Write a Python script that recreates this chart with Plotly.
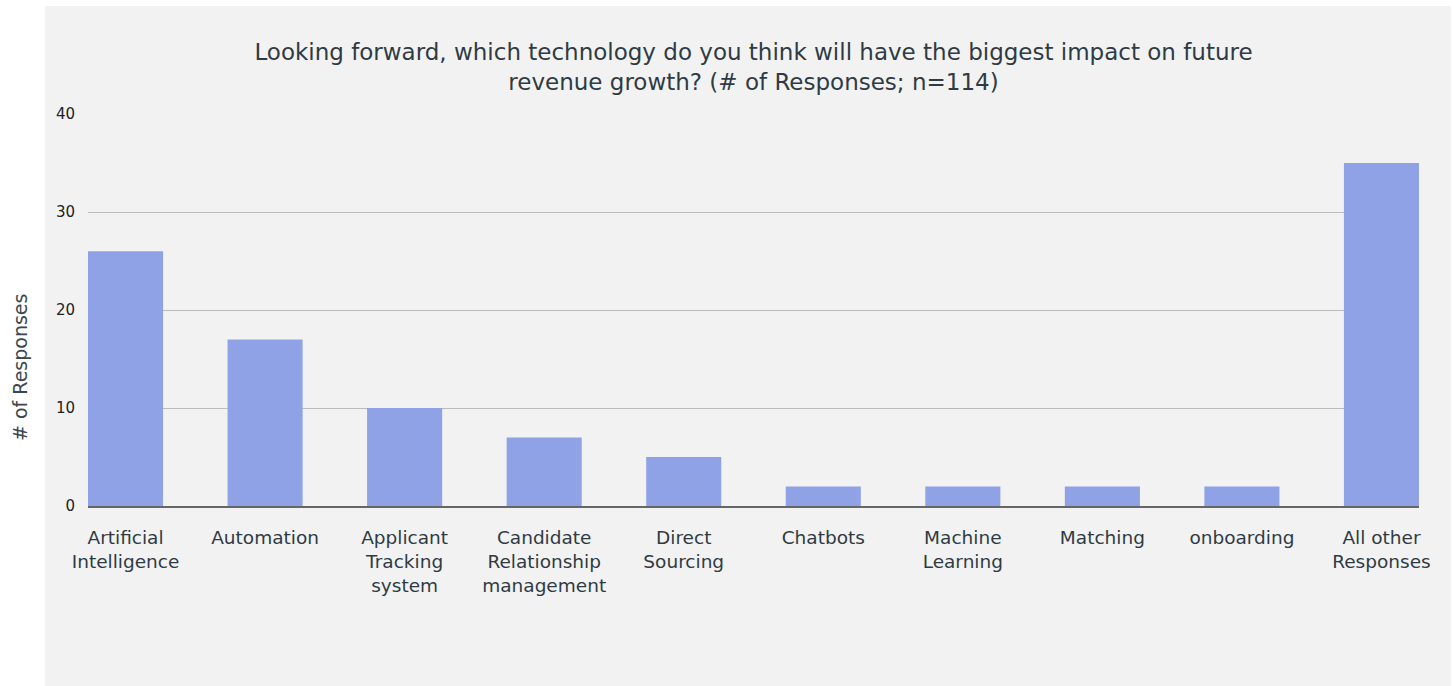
import plotly.graph_objects as go

# Survey responses per technology
categories = [
    "Artificial<br>Intelligence",
    "Automation",
    "Applicant<br>Tracking<br>system",
    "Candidate<br>Relationship<br>management",
    "Direct<br>Sourcing",
    "Chatbots",
    "Machine<br>Learning",
    "Matching",
    "onboarding",
    "All other<br>Responses",
]
responses = [26, 17, 10, 7, 5, 2, 2, 2, 2, 35]
y_ticks = [0, 10, 20, 30, 40]

W, H = 1454, 686
L, R, T, B = 88, 35, 114, 180
pw = W - L - R
ph = H - T - B

FONT = "'DejaVu Sans', 'Open Sans', sans-serif"
TEXT = "#2f3b44"

fig = go.Figure(
    go.Bar(
        x=list(range(len(categories))),
        y=responses,
        marker=dict(color="#8fa2e6", line=dict(width=0)),
        hoverinfo="y",
    )
)

gap = 0.462
half = (1 - gap) / 2

# grey panel behind the chart
px0, px1, py0, py1 = 45, 1451, 6, 686
fig.add_shape(
    type="rect", xref="paper", yref="paper", layer="below",
    x0=(px0 - L) / pw, x1=(px1 - L) / pw,
    y0=(H - B - py1) / ph, y1=(H - B - py0) / ph,
    fillcolor="#f2f2f2", line=dict(width=0),
)

fig.add_annotation(
    text="# of Responses", xref="paper", yref="paper",
    x=(20 - L) / pw, y=(H - B - 368) / ph,
    textangle=-90, showarrow=False, xanchor="center", yanchor="middle",
    font=dict(family=FONT, size=19, color="#3a4650"),
)

fig.update_layout(
    width=W, height=H,
    margin=dict(l=L, r=R, t=T, b=B, pad=0),
    paper_bgcolor="white",
    plot_bgcolor="rgba(0,0,0,0)",
    bargap=gap,
    showlegend=False,
    title=dict(
        text="Looking forward, which technology do you think will have the biggest impact on future<br>revenue growth? (# of Responses; n=114)",
        xref="paper", x=0.5, xanchor="center",
        yref="container", y=1 - 60 / H, yanchor="middle",
        font=dict(family=FONT, size=23, color=TEXT),
    ),
    xaxis=dict(
        tickmode="array",
        tickvals=list(range(len(categories))),
        ticktext=categories,
        range=[-half, len(categories) - 1 + half],
        showgrid=False,
        showline=True, linecolor="#666666", linewidth=1.5,
        ticks="", ticklabelstandoff=14,
        tickfont=dict(family=FONT, size=18.5, color=TEXT),
        zeroline=False,
        fixedrange=True,
    ),
    yaxis=dict(
        range=[0, 40],
        tickmode="array", tickvals=y_ticks,
        showgrid=True, gridcolor="#bcbcbc", gridwidth=1,
        zeroline=False, showline=False,
        ticks="", ticklabelstandoff=12,
        tickfont=dict(family=FONT, size=15, color="#222222"),
        fixedrange=True,
    ),
    font=dict(family=FONT, color=TEXT),
)

fig.write_html("out.html")
